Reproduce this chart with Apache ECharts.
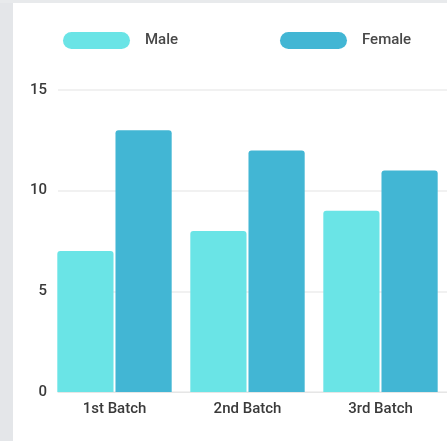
<!DOCTYPE html>
<html><head><meta charset="utf-8">
<script src="https://cdn.jsdelivr.net/npm/echarts@6/dist/echarts.min.js"></script>
<style>html,body{margin:0;padding:0;background:#fff}#c{width:447px;height:441px}</style>
</head><body><div id="c"></div>
<script>
const categories = ['1st Batch', '2nd Batch', '3rd Batch'];
const maleValues = [7, 8, 9];
const femaleValues = [13, 12, 11];
const yTicks = [0, 5, 10, 15];

const chart = echarts.init(document.getElementById('c'));
const font = 'Roboto, "Open Sans", sans-serif';
const pill = 'path://M8.5,0 H58.5 A8.5,8.5 0 0 1 58.5,17 H8.5 A8.5,8.5 0 0 1 8.5,0 Z';
const legendText = { color: '#484848', fontSize: 15, fontFamily: font, fontWeight: 500, padding: [0, 0, 0, 10] };
chart.setOption({
  backgroundColor: '#ffffff',
  animation: false,
  graphic: [
    { type: 'rect', shape: { x: 0, y: 0, width: 13, height: 441 }, style: { fill: '#e4e6e9' }, z: -10 },
    { type: 'rect', shape: { x: 0, y: 0, width: 447, height: 3 }, style: { fill: '#e8eaec' }, z: -10 }
  ],
  legend: [
    { data: ['Male'], left: 58, top: 27, itemWidth: 67, itemHeight: 17, icon: pill, textStyle: legendText },
    { data: ['Female'], left: 275, top: 27, itemWidth: 67, itemHeight: 17, icon: pill, textStyle: legendText }
  ],
  grid: [
    { left: 58, right: 0, top: 90, bottom: 49 },
    { left: 48, width: 402, top: 90, bottom: 49 }
  ],
  xAxis: [
    { type: 'category', gridIndex: 0, data: categories, axisLine: { lineStyle: { color: '#e6e6e6', width: 1 } },
      axisTick: { show: false }, axisLabel: { show: false } },
    { type: 'category', gridIndex: 1, data: categories, axisLine: { show: false }, axisTick: { show: false },
      axisLabel: { color: '#3a3a3a', fontSize: 15, fontFamily: font, fontWeight: 500, margin: 10 } }
  ],
  yAxis: [
    { type: 'value', gridIndex: 0, min: yTicks[0], max: yTicks[yTicks.length - 1], interval: 5,
      axisLine: { show: false }, axisTick: { show: false },
      axisLabel: { color: '#3a3a3a', fontSize: 15, fontFamily: font, fontWeight: 500, margin: 11 },
      splitLine: { lineStyle: { color: '#ececec', width: 1.5 } } },
    { type: 'value', gridIndex: 1, min: yTicks[0], max: yTicks[yTicks.length - 1], interval: 5,
      show: false, splitLine: { show: false } }
  ],
  series: [
    { name: 'Male', type: 'bar', xAxisIndex: 1, yAxisIndex: 1, data: maleValues,
      barGap: '3.5%', barCategoryGap: '14%',
      itemStyle: { color: '#6ae4e6', borderRadius: [3, 3, 0, 0] } },
    { name: 'Female', type: 'bar', xAxisIndex: 1, yAxisIndex: 1, data: femaleValues,
      barGap: '3.5%', barCategoryGap: '14%',
      itemStyle: { color: '#42b6d4', borderRadius: [3, 3, 0, 0] } }
  ]
});
</script></body></html>
